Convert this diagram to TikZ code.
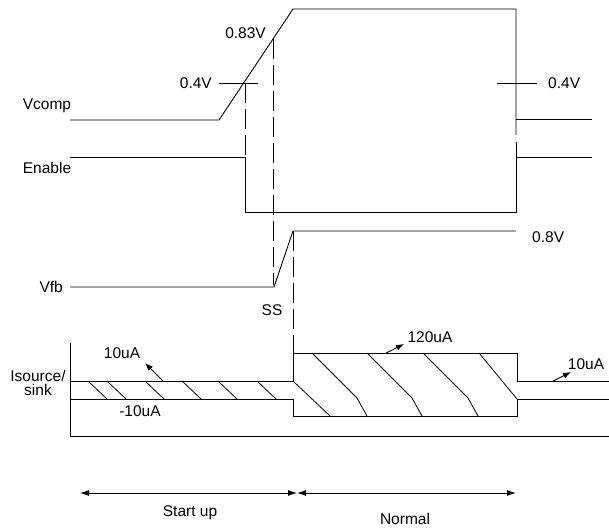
\documentclass[tikz,border=0pt]{standalone}
\usepackage{fontspec}
\setmainfont{Liberation Sans}
\usetikzlibrary{arrows.meta}

\tikzset{
    wave/.style   = {line width=0.9pt, line join=miter},
    guide/.style  = {line width=0.9pt, dash pattern=on 20pt off 6pt},
    hatch/.style  = {line width=0.8pt},
    lbl/.style    = {font=\fontsize{15.5}{14.5}\selectfont, inner sep=0pt, align=center},
    cur/.style    = {line width=0.9pt, -{Latex[length=8pt,width=6pt]}},
    span/.style   = {line width=0.9pt, {Latex[length=9pt,width=6pt]}-{Latex[length=9pt,width=6pt]}}
}

\begin{document}
\begin{tikzpicture}[x=1pt, y=-1pt]
            \useasboundingbox (0,0) rectangle (609,529);
            \node[lbl]             (vcomp)  at ( 47,106) {Vcomp};
            \node[lbl]             (enable) at ( 47,168) {Enable};
            \node[lbl, anchor=east](vfb)    at ( 63,287) {Vfb};
            \node[lbl]             (isrc)   at ( 38,383) {Isource/\\sink};
            \node[lbl, anchor=east](lowl)   at (212, 83) {0.4V};
            \node[lbl, anchor=east](high)   at (266, 33) {0.83V};
            \node[lbl, anchor=west](lowr)   at (548, 83) {0.4V};
            \node[lbl, anchor=west](ref)    at (532,237) {0.8V};
            \node[lbl]             (ss)     at (272,310) {SS};
            \node[lbl]             (srcup)  at (122,353) {10uA};
            \node[lbl]             (snkup)  at (140,411) {-10uA};
            \node[lbl]             (srcnm)  at (430,337) {120uA};
            \node[lbl]             (srcend) at (586,364) {10uA};
            \node[lbl]             (startup)at (190,513) {Start up};
            \node[lbl]             (normal) at (405,519) {Normal};

            \draw[wave]  ( 70,120) -- (219,120) -- (293,  9) -- (516,  9) -- (516,135);
            \draw[wave]  (516,119) -- (592,119);
            \draw[wave]  ( 70,157) -- (245,157) -- (245,212) -- (516,212) -- (516,142);
            \draw[wave]  (516,157) -- (592,157);
            \draw[wave]  (219, 83) -- (258, 83);
            \draw[wave]  (497, 83) -- (537, 83);
            \draw[wave]  ( 70,287) -- (274,287) -- (293,231) -- (516,231);

            \draw[guide] (245, 83) -- (245,157);
            \draw[guide] (273, 39) -- (273,285);
            \draw[guide] (293,231) -- (293,347);

            \draw[wave]  ( 70,343) -- ( 70,436) -- (609,436);
            \draw[wave]  ( 70,381) -- (293,381);
            \draw[wave]  ( 70,399) -- (293,399);
            \draw[wave]  (293,347) -- (293,381);
            \draw[wave]  (293,399) -- (293,416);
            \draw[wave]  (293,353) -- (517,353) -- (517,381) -- (609,381);
            \draw[wave]  (293,416) -- (517,416) -- (517,399) -- (609,399);

            \foreach \a in {88,107,145,182,218,257}
                \draw[hatch] (\a,381) -- ({\a+19},399);
            \draw[hatch] (293,381) -- (330,416);
            \foreach \t in {312,367,423}
                \draw[hatch] (\t,353) -- ({\t+45},398) -- ({\t+55},416);
            \draw[hatch] (479,353) -- (517,399);

            \draw[cur]   (163,381) -- (145,363);
            \draw[cur]   (386,353) -- (404,344);
            \draw[cur]   (553,381) -- (571,372);

            \coordinate (t0) at ( 80,493);
            \coordinate (t1) at (297,493);
            \coordinate (t2) at (516,493);
            \draw[span]  (t0) -- (t1);
            \draw[span]  (t1) -- (t2);
            \end{tikzpicture}
\end{document}
